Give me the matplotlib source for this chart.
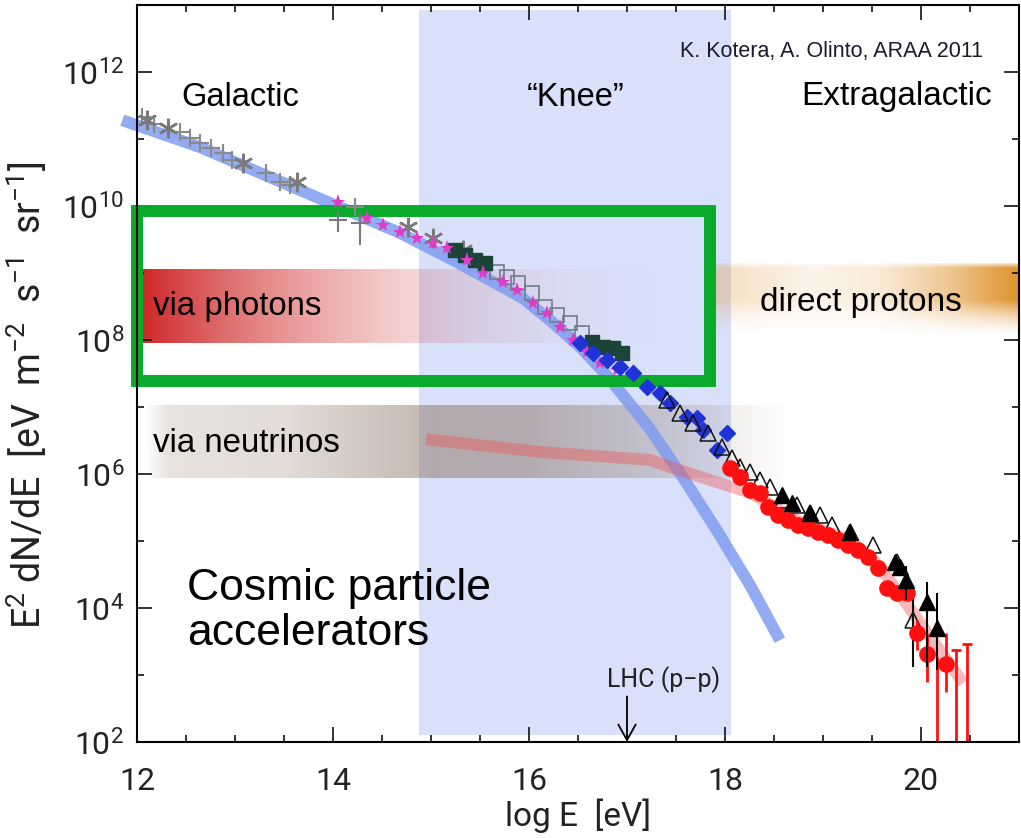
import numpy as np
import matplotlib
matplotlib.use('Agg')
import matplotlib.pyplot as plt
from matplotlib.patches import Rectangle
from matplotlib.ticker import FixedLocator, NullFormatter, LogFormatterMathtext

# all values are log10(E / eV) and log10(E^2 dN/dE / eV m^-2 s^-1 sr^-1)

# galactic component (thick blue band)
gal_x = [11.85, 12.64, 13.66, 14.68, 15.19, 15.53, 15.94, 16.21, 16.52, 16.80, 17.00, 17.23, 17.57, 17.92, 18.26, 18.56]
gal_y = [11.28, 10.88, 10.24, 9.60, 9.22, 8.95, 8.62, 8.30, 7.90, 7.46, 7.10, 6.68, 5.95, 5.15, 4.33, 3.52]

# extragalactic component (thick red band)
exg_x = [14.95, 16.11, 17.23, 17.74, 18.26, 18.77, 19.28, 19.58, 20.00, 20.43]
exg_y = [6.52, 6.33, 6.21, 5.96, 5.72, 5.28, 5.01, 4.62, 3.76, 2.88]

# direct measurements, gray crosses
cross_x = [12.05, 12.17, 12.44, 12.54, 12.64, 12.76, 12.88, 12.97, 13.32, 13.46, 13.56, 14.22]
cross_y = [11.33, 11.23, 11.11, 11.01, 10.94, 10.86, 10.79, 10.69, 10.49, 10.36, 10.31, 9.99]

# gray crosses with large errors
crerr_x = [14.05, 14.28]
crerr_y = [9.79, 9.75]
crerr_lo = [0.18, 0.33]
crerr_hi = [0.10, 0.15]

# gray asterisks
ast_x = [12.10, 12.32, 13.08, 13.63, 14.77, 15.02, 15.33]
ast_y = [11.28, 11.16, 10.64, 10.36, 9.69, 9.52, 9.34]

# magenta stars
star_x = [14.05, 14.35, 14.51, 14.68, 14.86, 15.02, 15.16, 15.37, 15.53, 15.73, 15.88,
          16.04, 16.18, 16.32, 16.45, 16.59, 16.72, 16.90, 17.06]
star_y = [10.06, 9.82, 9.72, 9.61, 9.52, 9.45, 9.37, 9.19, 9.00, 8.87, 8.75,
          8.55, 8.40, 8.19, 8.00, 7.82, 7.66, 7.55, 7.52]

# dark filled squares
dsq_x = [15.24, 15.35, 15.45, 15.55, 16.64, 16.76, 16.86, 16.95]
dsq_y = [9.34, 9.27, 9.19, 9.15, 7.97, 7.90, 7.88, 7.80]

# open gray squares
osq_x = [15.67, 15.78, 15.89, 16.03, 16.16, 16.29, 16.42, 16.54]
osq_y = [9.01, 8.94, 8.85, 8.70, 8.49, 8.37, 8.25, 8.10]

# blue diamonds
dia_x = [16.52, 16.65, 16.80, 16.93, 17.06, 17.20, 17.34, 17.44, 17.61, 17.71, 17.78, 17.92, 18.02]
dia_y = [7.96, 7.81, 7.70, 7.60, 7.51, 7.30, 7.21, 7.06, 6.85, 6.84, 6.66, 6.36, 6.61]

# open triangles
otri_x = [17.41, 17.54, 17.67, 17.83, 17.97, 18.07, 18.15, 18.26, 18.36, 18.46, 18.59,
          18.73, 18.87, 18.97, 19.09, 19.28, 19.51, 19.76, 19.92]
otri_y = [7.10, 6.91, 6.76, 6.61, 6.40, 6.24, 6.10, 6.03, 5.91, 5.81, 5.61,
          5.54, 5.42, 5.39, 5.24, 5.13, 4.94, 4.69, 3.82]
otri_lo = [0, 0, 0, 0, 0, 0, 0, 0, 0, 0, 0, 0, 0, 0, 0, 0, 0, 0, 0.70]
otri_hi = [0, 0, 0, 0, 0, 0, 0, 0, 0, 0, 0, 0, 0, 0, 0, 0, 0, 0, 0.35]

# filled triangles
ftri_x = [18.58, 18.68, 18.87, 19.28, 19.73, 19.79, 19.85, 20.06, 20.16]
ftri_y = [5.69, 5.57, 5.42, 5.13, 4.69, 4.61, 4.42, 4.09, 3.70]
ftri_lo = [0, 0, 0, 0, 0, 0, 0.30, 0.97, 0.63]
ftri_hi = [0, 0, 0, 0, 0, 0, 0.20, 0.30, 0.52]

# red circles
circ_x = [18.05, 18.15, 18.26, 18.36, 18.44, 18.54, 18.64, 18.74, 18.85, 18.95, 19.05,
          19.15, 19.26, 19.36, 19.46, 19.56, 19.65, 19.76, 19.86, 19.96, 20.06, 20.26]
circ_y = [6.09, 5.96, 5.76, 5.72, 5.51, 5.39, 5.31, 5.24, 5.19, 5.13, 5.09,
          5.01, 4.94, 4.87, 4.76, 4.60, 4.30, 4.22, 4.22, 3.62, 3.32, 3.17]
circ_lo = [0] * 19 + [0.25, 0.42, 0.42]
circ_hi = [0] * 19 + [0.20, 0.30, 0.45]

# red upper limits
ul_x = [20.16, 20.36, 20.47]
ul_y = [3.27, 3.37, 3.46]

narrow = ['Roboto', 'DejaVu Sans']
arial = ['Liberation Sans', 'DejaVu Sans']
plt.rcParams['mathtext.fontset'] = 'custom'
plt.rcParams['mathtext.rm'] = 'Roboto'
plt.rcParams['mathtext.it'] = 'Roboto'
plt.rcParams['mathtext.bf'] = 'Roboto'


def p(v):
    return 10 ** np.asarray(v, dtype=float)


def band(ax, x0, x1, y0, y1, rgb, xs, alphas, soft=0.0, z=1):
    nx, ny = 400, 60
    t = np.linspace(x0, x1, nx)
    a = np.interp(t, xs, alphas)
    v = np.linspace(0, 1, ny)
    va = np.ones(ny)
    if soft > 0:
        va = np.clip(np.minimum(v, 1 - v) / soft, 0, 1)
    img = np.zeros((ny, nx, 4))
    img[..., 0], img[..., 1], img[..., 2] = rgb
    img[..., 3] = va[:, None] * a[None, :]
    ax.imshow(img, extent=(x0, x1, 10 ** y0, 10 ** y1), origin='lower',
              aspect='auto', interpolation='bilinear', zorder=z, clip_on=False)


fig = plt.figure(figsize=(10.21, 8.38), dpi=100)
ax = fig.add_axes([137 / 1021, 96 / 838, 882 / 1021, 737 / 838])
ax.set_yscale('log')

# knee region
ax.axvspan(14.88, 18.06, ymin=0.01, ymax=0.993, color='#d9e1fa', lw=0, zorder=0.5)

# gradient bands
tp = np.linspace(12.03, 17.9, 30)
band(ax, 12.03, 17.9, 7.96, 9.07, (0.80, 0.10, 0.10), tp,
     0.95 * (1 - (tp - 12.03) / 5.87) ** 2.5)
band(ax, 17.9, 21.0, 8.03, 9.16, (0.87, 0.55, 0.13),
     [17.9, 18.2, 18.9, 19.6, 20.3, 21.0], [0.30, 0.22, 0.10, 0.18, 0.50, 0.95], soft=0.2)
band(ax, 12.08, 18.66, 5.94, 7.03, (0.55, 0.45, 0.38),
     [12.08, 12.3, 13.5, 15.0, 16.0, 17.5, 18.3, 18.66], [0.0, 0.20, 0.25, 0.50, 0.48, 0.25, 0.06, 0.0])

# model components
ax.plot(gal_x, p(gal_y), color='#7f9cf0', lw=8.5, alpha=0.85, solid_capstyle='butt',
        solid_joinstyle='round', zorder=2, clip_on=False)
ax.plot(exg_x, p(exg_y), color='#f05050', lw=8.5, alpha=0.4, solid_capstyle='butt',
        solid_joinstyle='round', zorder=2)

# highlighted box
ax.add_patch(Rectangle((12.0, 10 ** 7.39), 5.85, 10 ** 9.93 - 10 ** 7.39, fill=False,
                       ec='#0aab2c', lw=8.6, zorder=3, clip_on=False))

# data points
ax.plot(cross_x, p(cross_y), '+', color='#8a8a8a', ms=13, mew=1.5, zorder=4)
yv = np.array(crerr_y)
ax.errorbar(crerr_x, p(yv), yerr=[p(yv) - p(yv - crerr_lo), p(yv + crerr_hi) - p(yv)],
            fmt='+', color='#7a7a7a', ms=13, mew=1.5, elinewidth=1.5, capsize=0, zorder=4)
ax.plot(ast_x, p(ast_y), ls='none', marker=(6, 2, 0), color='#7a7a7a', ms=14, mew=1.8, zorder=4)
ax.plot(star_x, p(star_y), '*', color='#e03cc8', ms=11, mew=0, zorder=4.2)
ax.plot(osq_x, p(osq_y), 's', mfc='none', mec='#6f7d8c', ms=10, mew=1.2, zorder=4)
ax.plot(dsq_x, p(dsq_y), 's', color='#1d4438', ms=10, zorder=4.1)
ax.plot(dia_x, p(dia_y), 'D', color='#1f33d6', ms=8, zorder=4.3)
yv = np.array(otri_y)
ax.errorbar(otri_x, p(yv), yerr=[p(yv) - p(yv - otri_lo), p(yv + otri_hi) - p(yv)],
            fmt='^', mfc='none', mec='#111111', color='#111111', ms=12, mew=1.1,
            elinewidth=1.5, capsize=0, zorder=4.4)
yv = np.array(circ_y)
ax.errorbar(circ_x, p(yv), yerr=[p(yv) - p(yv - circ_lo), p(yv + circ_hi) - p(yv)],
            fmt='o', color='#ff1010', ms=12, mew=0, elinewidth=2, capsize=0, zorder=4.5)
yv = np.array(ftri_y)
ax.errorbar(ftri_x, p(yv), yerr=[p(yv) - p(yv - ftri_lo), p(yv + ftri_hi) - p(yv)],
            fmt='^', color='#000000', ms=11, elinewidth=1.5, capsize=0, zorder=4.6)
ax.vlines(ul_x, p(1.0), p(ul_y), color='#ff1010', lw=2, zorder=4.5)
ax.plot(ul_x[1:], p(ul_y[1:]), ls='none', marker='_', color='#ff1010', ms=7, mew=2, zorder=4.5)

# LHC marker
ax.annotate('', xy=(17.0, 10 ** 2.0), xytext=(17.0, 10 ** 2.68),
            arrowprops=dict(arrowstyle='->,head_length=0.45,head_width=0.25', lw=1.3,
                            color='k', mutation_scale=25, shrinkA=0, shrinkB=0), zorder=6)
ax.text(17.37, 10 ** 2.93, 'LHC (p\u2212p)', family=narrow, fontsize=18, color='#222222',
        ha='center', va='center', zorder=6)

# labels on the plot
fig.text(240 / 1021, 1 - 97 / 838, 'Galactic', family=arial, fontsize=23.5, ha='center', va='center')
fig.text(576 / 1021, 1 - 97 / 838, '\u201cKnee\u201d', family=arial, fontsize=23.5, ha='center', va='center')
fig.text(897 / 1021, 1 - 97 / 838, 'Extragalactic', family=arial, fontsize=24, ha='center', va='center')
fig.text(831 / 1021, 1 - 52 / 838, 'K. Kotera, A. Olinto, ARAA 2011', family=arial, fontsize=15.5,
         color='#1a1a2a', ha='center', va='center')
fig.text(153 / 1021, 1 - 307 / 838, 'via photons', family=arial, fontsize=23.8, ha='left', va='center')
fig.text(861 / 1021, 1 - 302 / 838, 'direct protons', family=arial, fontsize=24, ha='center', va='center')
fig.text(153 / 1021, 1 - 443 / 838, 'via neutrinos', family=arial, fontsize=23.8, ha='left', va='center')
fig.text(187 / 1021, 1 - 611 / 838, 'Cosmic particle\naccelerators', family=arial, fontsize=32,
         ha='left', va='center', linespacing=1.15)

# axes
ax.set_xlim(12, 21)
ax.set_ylim(1e2, 1e13)
ax.xaxis.set_major_locator(FixedLocator([12, 14, 16, 18, 20]))
ax.xaxis.set_minor_locator(FixedLocator(np.arange(12, 21.01, 0.5)))
ax.yaxis.set_major_locator(FixedLocator(p([2, 4, 6, 8, 10, 12])))
ax.yaxis.set_minor_locator(FixedLocator(p([3, 5, 7, 9, 11])))
ax.yaxis.set_major_formatter(LogFormatterMathtext())
ax.yaxis.set_minor_formatter(NullFormatter())
ax.tick_params(which='both', direction='in', top=True, right=True, width=1.2, colors='#111111',
               labelcolor='#222222')
ax.tick_params(which='major', length=11, labelsize=23)
ax.tick_params(which='minor', length=5)
ax.tick_params(axis='x', pad=18)
ax.tick_params(axis='y', pad=9)
for lab in ax.get_xticklabels() + ax.get_yticklabels():
    lab.set_family(narrow)
for s in ax.spines.values():
    s.set_linewidth(1.5)
    s.set_zorder(5)

ax.set_xlabel('log E  [eV]', family=narrow, fontsize=24, color='#222222', labelpad=2)
ax.set_ylabel('E$^2$ dN/dE  [eV  m$^{-2}$  s$^{-1}$  sr$^{-1}$]', family=narrow, fontsize=27,
              color='#222222')
ax.yaxis.set_label_coords(-0.10, 0.47)

fig.savefig('out.png', dpi=100)
